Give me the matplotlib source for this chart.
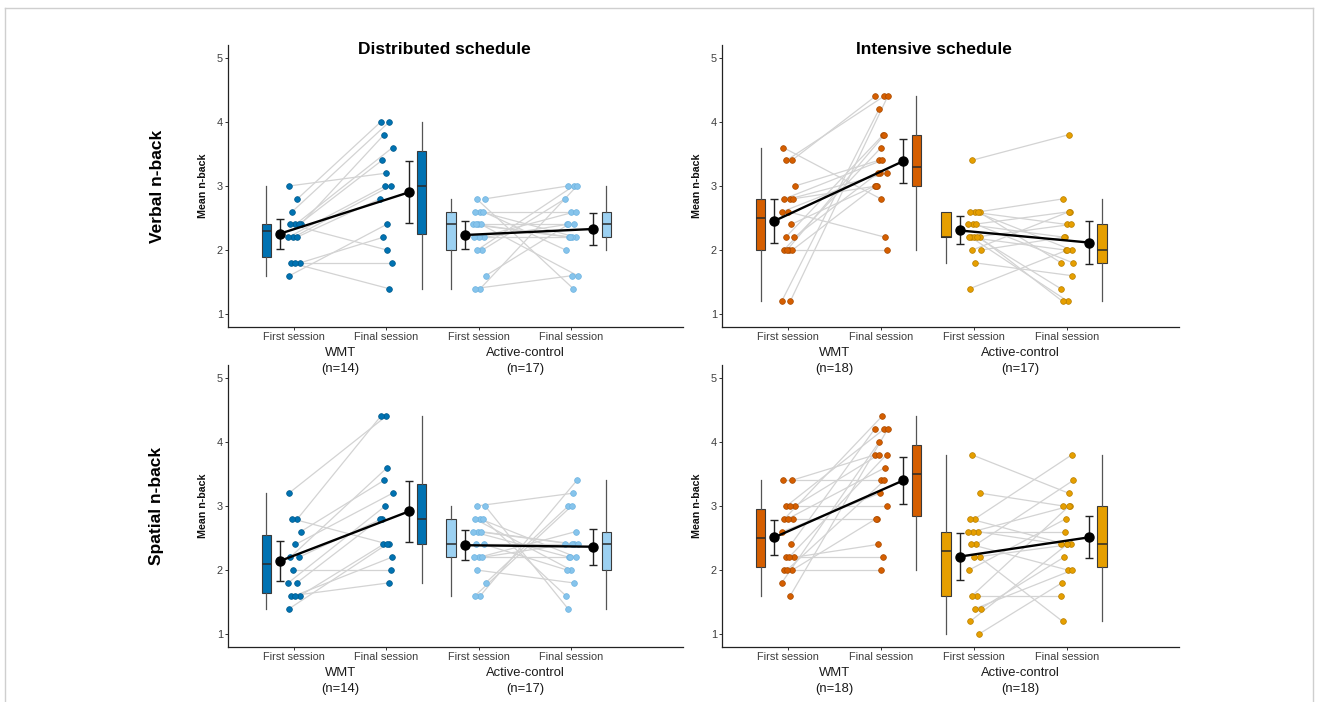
import numpy as np
import matplotlib
matplotlib.use("Agg")
import matplotlib.pyplot as plt
from matplotlib.lines import Line2D

plt.rcParams['font.family'] = ['Liberation Sans', 'DejaVu Sans']

# ---------------- data ----------------
session_labels = ["First session", "Final session", "First session", "Final session"]
group_names = ["WMT", "Active-control"]
schedule_titles = ["Distributed schedule", "Intensive schedule"]
row_titles = ["Verbal n-back", "Spatial n-back"]
y_label = "Mean n-back"

dist_verbal_wmt_first = [3.0, 2.8, 2.6, 2.4, 2.4, 2.4, 2.4, 2.2, 2.2, 2.2, 1.8, 1.8, 1.8, 1.6]
dist_verbal_wmt_final = [3.2, 4.0, 4.0, 3.8, 3.6, 2.0, 3.4, 3.0, 3.0, 2.8, 1.4, 2.2, 1.8, 2.4]
dist_verbal_ac_first = [2.8, 2.8, 2.6, 2.6, 2.6, 2.4, 2.4, 2.4, 2.4, 2.2, 2.2, 2.2, 2.0, 2.0, 1.6, 1.4, 1.4]
dist_verbal_ac_final = [1.4, 3.0, 2.2, 2.6, 2.0, 2.4, 2.2, 1.6, 2.2, 2.4, 2.6, 2.2, 2.8, 3.0, 2.4, 3.0, 1.6]

int_verbal_wmt_first = [3.6, 3.4, 3.4, 3.0, 2.8, 2.8, 2.8, 2.6, 2.6, 2.4, 2.2, 2.2, 2.0, 2.0, 2.0, 2.0, 1.2, 1.2]
int_verbal_wmt_final = [2.8, 4.4, 4.4, 3.4, 3.2, 3.4, 3.0, 2.2, 3.2, 3.0, 3.8, 3.2, 2.0, 3.6, 3.0, 3.8, 4.2, 4.4]
int_verbal_ac_first = [3.4, 2.6, 2.6, 2.6, 2.6, 2.4, 2.4, 2.4, 2.2, 2.2, 2.2, 2.2, 2.2, 2.0, 2.0, 1.8, 1.4]
int_verbal_ac_final = [3.8, 2.8, 2.0, 2.4, 1.8, 2.6, 2.2, 1.8, 1.2, 1.2, 2.4, 2.0, 1.4, 2.6, 2.2, 1.6, 2.0]

dist_spatial_wmt_first = [3.2, 2.8, 2.8, 2.6, 2.4, 2.2, 2.2, 2.0, 1.8, 1.8, 1.6, 1.6, 1.6, 1.4]
dist_spatial_wmt_final = [4.4, 4.4, 2.4, 3.4, 3.2, 3.6, 2.8, 2.0, 3.0, 2.8, 1.8, 2.4, 2.2, 2.4]
dist_spatial_ac_first = [3.0, 3.0, 2.8, 2.8, 2.8, 2.6, 2.6, 2.6, 2.4, 2.4, 2.2, 2.2, 2.2, 2.0, 1.8, 1.6, 1.6]
dist_spatial_ac_final = [3.2, 1.4, 2.2, 2.0, 1.6, 2.4, 2.2, 2.4, 2.4, 2.0, 2.6, 2.2, 2.4, 1.8, 3.0, 3.4, 3.0]

int_spatial_wmt_first = [3.4, 3.4, 3.0, 3.0, 3.0, 2.8, 2.8, 2.8, 2.6, 2.4, 2.2, 2.2, 2.2, 2.0, 2.0, 2.0, 1.8, 1.6]
int_spatial_wmt_final = [3.4, 3.8, 4.2, 3.8, 3.0, 4.4, 2.8, 3.6, 3.2, 4.2, 2.2, 2.4, 3.8, 2.0, 2.8, 3.4, 4.0, 4.2]
int_spatial_ac_first = [3.8, 3.2, 2.8, 2.8, 2.6, 2.6, 2.6, 2.4, 2.4, 2.2, 2.2, 2.0, 1.6, 1.6, 1.4, 1.4, 1.2, 1.0]
int_spatial_ac_final = [3.2, 3.0, 3.8, 2.4, 2.4, 3.0, 2.6, 3.4, 2.0, 1.2, 2.4, 2.8, 1.6, 3.0, 2.2, 2.0, 2.4, 1.8]

# two-sided 95% t critical values by degrees of freedom
t_crit = {13: 2.160, 16: 2.120, 17: 2.110}

# ---------------- styles ----------------
COL_WMT_DIST = "#0072B2"
COL_AC_DIST = "#9CD1F2"
PT_AC_DIST = "#86C4EC"
COL_WMT_INT = "#D55E00"
COL_AC_INT = "#E69F00"

W, H = 1319, 702
fig = plt.figure(figsize=(W / 100, H / 100), dpi=100)
fig.patch.set_facecolor("white")

# outer frame
frame_col = "#cfcfcf"
for xs, ys in [((5, 1313), (8, 8)), ((5, 5), (8, 702)), ((1313, 1313), (8, 702))]:
    fig.add_artist(Line2D([x / W for x in xs], [1 - y / H for y in ys],
                          color=frame_col, lw=1.0, transform=fig.transFigure))


def px_axes(left, top, right, bottom):
    ax = fig.add_axes([left / W, 1 - bottom / H, (right - left) / W, (bottom - top) / H])
    ax.set_facecolor("none")
    return ax


def jitter(n, phase):
    return 0.075 * (2 * ((np.arange(n) * 0.618034 + phase) % 1.0) - 1)


def draw_panel(ax, groups, ns):
    for gi, (first, final, box_col, pt_col, edge_col) in enumerate(groups):
        first = np.array(first)
        final = np.array(final)
        n = len(first)
        x1 = 1 + 2 * gi
        x2 = x1 + 1
        j1 = x1 + jitter(n, 0.13 + 0.21 * gi)
        j2 = x2 + jitter(n, 0.47 + 0.17 * gi)
        for a, b, ya, yb in zip(j1, j2, first, final):
            ax.plot([a, b], [ya, yb], color="#d3d3d3", lw=0.9, zorder=1, solid_capstyle='round')
        ax.scatter(j1, first, s=17, color=pt_col, edgecolor=edge_col, linewidth=0.5, zorder=3)
        ax.scatter(j2, final, s=17, color=pt_col, edgecolor=edge_col, linewidth=0.5, zorder=3)
        bp = ax.boxplot([first, final], positions=[x1 - 0.30, x2 + 0.38], widths=0.10,
                        patch_artist=True, showfliers=False, showcaps=False, whis=1.5,
                        manage_ticks=False, zorder=2)
        for patch in bp['boxes']:
            patch.set_facecolor(box_col)
            patch.set_edgecolor("#3a3a3a")
            patch.set_linewidth(0.8)
        for w in bp['whiskers']:
            w.set_color("#555555")
            w.set_linewidth(0.9)
        for m in bp['medians']:
            m.set_color("#2a2a2a")
            m.set_linewidth(1.1)
        mx = [x1 - 0.15, x2 + 0.24]
        means, cis = [], []
        for d in (first, final):
            mu = d.mean()
            se = d.std(ddof=1) / np.sqrt(len(d))
            means.append(mu)
            cis.append(t_crit[len(d) - 1] * se)
        ax.plot(mx, means, color="black", lw=1.7, zorder=5)
        ax.errorbar(mx, means, yerr=cis, fmt='none', ecolor="#222222", elinewidth=1.0,
                    capsize=3, capthick=1.0, zorder=4)
        ax.plot(mx, means, 'o', color="black", markersize=6.5, zorder=6)
        for txt, off in ((group_names[gi], -26), ("(n=%d)" % ns[gi], -42)):
            ax.annotate(txt, xy=(x1 + 0.5, 0), xycoords=('data', 'axes fraction'),
                        xytext=(0, off), textcoords='offset pixels', ha='center', va='center',
                        fontsize=9.4, color="#1a1a1a", annotation_clip=False, zorder=10)

    ax.set_xlim(0.285, 5.21)
    ax.set_ylim(0.8, 5.2)
    ax.set_yticks([1, 2, 3, 4, 5])
    ax.set_xticks([1, 2, 3, 4])
    ax.set_xticklabels(session_labels)
    for s in ("top", "right"):
        ax.spines[s].set_visible(False)
    for s in ("left", "bottom"):
        ax.spines[s].set_color("#222222")
        ax.spines[s].set_linewidth(0.9)
    ax.tick_params(axis='both', length=2.2, width=0.7, color="#333333", pad=1.5,
                   labelsize=7.9, labelcolor="#3d3d3d")


panels = [
    ((228, 45, 683, 327), [(dist_verbal_wmt_first, dist_verbal_wmt_final, COL_WMT_DIST, COL_WMT_DIST, "#005a8c"),
                           (dist_verbal_ac_first, dist_verbal_ac_final, COL_AC_DIST, PT_AC_DIST, "#6fb3e0")], (14, 17)),
    ((722, 45, 1179, 327), [(int_verbal_wmt_first, int_verbal_wmt_final, COL_WMT_INT, COL_WMT_INT, "#a84a00"),
                            (int_verbal_ac_first, int_verbal_ac_final, COL_AC_INT, COL_AC_INT, "#b97f00")], (18, 17)),
    ((228, 365, 683, 647), [(dist_spatial_wmt_first, dist_spatial_wmt_final, COL_WMT_DIST, COL_WMT_DIST, "#005a8c"),
                            (dist_spatial_ac_first, dist_spatial_ac_final, COL_AC_DIST, PT_AC_DIST, "#6fb3e0")], (14, 17)),
    ((722, 365, 1179, 647), [(int_spatial_wmt_first, int_spatial_wmt_final, COL_WMT_INT, COL_WMT_INT, "#a84a00"),
                             (int_spatial_ac_first, int_spatial_ac_final, COL_AC_INT, COL_AC_INT, "#b97f00")], (18, 18)),
]

for (l, t, r, b), groups, ns in panels:
    ax = px_axes(l, t, r, b)
    draw_panel(ax, groups, ns)
    fig.text((l - 25) / W, 1 - ((t + b) / 2) / H, y_label, rotation=90, ha='center', va='center',
             fontsize=7.7, fontweight='bold', color="#111111")

fig.text(444 / W, 1 - 50 / H, schedule_titles[0], ha='center', va='center', fontsize=12.5, fontweight='bold')
fig.text(934 / W, 1 - 50 / H, schedule_titles[1], ha='center', va='center', fontsize=12.5, fontweight='bold')

fig.text(157 / W, 1 - 186 / H, row_titles[0], rotation=90, ha='center', va='center', fontsize=12.5, fontweight='bold')
fig.text(157 / W, 1 - 506 / H, row_titles[1], rotation=90, ha='center', va='center', fontsize=12.5, fontweight='bold')

fig.savefig("out.png", dpi=100, facecolor="white")
